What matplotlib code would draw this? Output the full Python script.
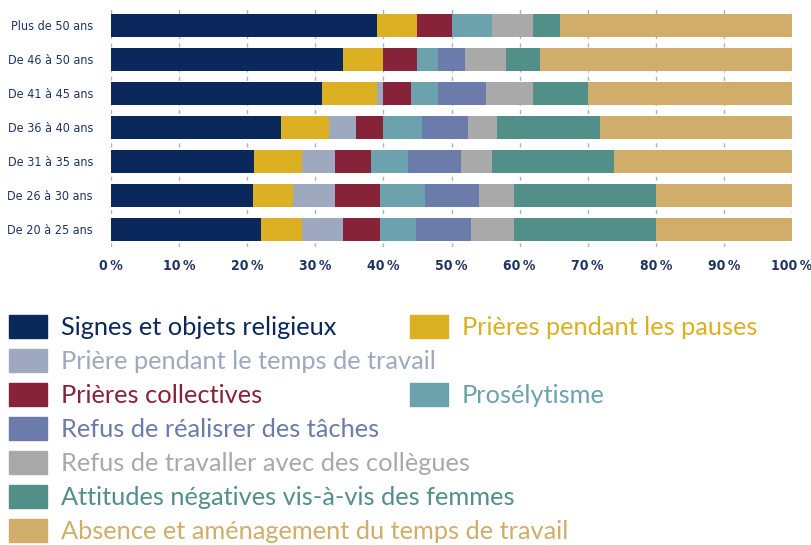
import matplotlib.pyplot as plt
from matplotlib.patches import Rectangle
import numpy as np

# age groups, top to bottom
ages = ["Plus de 50 ans", "De 46 à 50 ans", "De 41 à 45 ans", "De 36 à 40 ans",
        "De 31 à 35 ans", "De 26 à 30 ans", "De 20 à 25 ans"]

# shares in % per category (same order as ages)
signes = [39, 34, 31, 25, 21, 20.9, 22]
pauses = [6, 6, 8, 7, 7, 5.8, 6]
priere_travail = [0, 0, 1, 4, 4.9, 6.2, 6.1]
collectives = [5, 5, 4, 4, 5.3, 6.6, 5.4]
proselytisme = [6, 3, 4, 5.7, 5.4, 6.6, 5.3]
refus_taches = [0, 4, 7, 6.7, 7.8, 7.9, 8.1]
refus_collegues = [6, 6, 7, 4.3, 4.5, 5.2, 6.3]
attitudes = [4, 5, 8, 15.1, 18, 20.8, 20.8]
absence = [34, 37, 30, 28.2, 26.1, 20, 20]

labels = ["Signes et objets religieux", "Prières pendant les pauses",
          "Prière pendant le temps de travail", "Prières collectives",
          "Prosélytisme", "Refus de réalisrer des tâches",
          "Refus de travaller avec des collègues",
          "Attitudes négatives vis-à-vis des femmes",
          "Absence et aménagement du temps de travail"]
colors = ["#0B285C", "#DBB022", "#9EA9C0", "#862338", "#6BA2AE",
          "#6B7BAA", "#A9A9A9", "#518F88", "#D0AD6A"]
series = [signes, pauses, priere_travail, collectives, proselytisme,
          refus_taches, refus_collegues, attitudes, absence]

xticks = np.arange(0, 101, 10)

navy_txt = "#1E3461"
tick_kw = dict(family="DejaVu Sans", fontstretch="condensed", color=navy_txt)

fig = plt.figure(figsize=(8.11, 5.45), dpi=100)
ax = fig.add_axes([0.1369, 0.5468, 0.8397, 0.4404])

y = np.arange(len(ages))
left = np.zeros(len(ages))
for vals, col, lab in zip(series, colors, labels):
    vals = np.array(vals, dtype=float)
    ax.barh(y, vals, left=left, height=0.67, color=col, label=lab, zorder=2)
    left += vals

ax.set_ylim(len(ages) - 0.48, -0.54)
ax.set_xlim(0, 100)
ax.set_xticks(xticks)
ax.set_xticklabels([f"{t}\u2009%" for t in xticks], fontsize=10, fontweight="bold", **tick_kw)
ax.set_yticks(y)
ax.set_yticklabels(ages, fontsize=9, **tick_kw)
ax.tick_params(length=0)
ax.tick_params(axis="y", pad=13)
ax.tick_params(axis="x", pad=9)
for s in ax.spines.values():
    s.set_visible(False)
ax.grid(axis="x", linestyle=(0, (3, 3)), color="#A9B3C8", linewidth=1, zorder=0)
ax.set_axisbelow(True)

# legend, drawn by hand: left column 7 rows, right column rows 1 and 3
leg_font = ["Lato", "DejaVu Sans"]
left_items = [0, 2, 3, 5, 6, 7, 8]
right_items = {1: 0, 4: 2}
row_h = 34
for row, i in enumerate(left_items):
    ytop = 315 + row * row_h
    fig.patches.append(Rectangle((9 / 811, 1 - (ytop + 23) / 545), 38 / 811, 23 / 545,
                                 transform=fig.transFigure, color=colors[i]))
    fig.text(61 / 811, 1 - (ytop + 12.5) / 545, labels[i], color=colors[i],
             family=leg_font, fontsize=18.3, va="center", ha="left")
for i, row in right_items.items():
    ytop = 315 + row * row_h
    fig.patches.append(Rectangle((410 / 811, 1 - (ytop + 23) / 545), 38 / 811, 23 / 545,
                                 transform=fig.transFigure, color=colors[i]))
    fig.text(462 / 811, 1 - (ytop + 12.5) / 545, labels[i], color=colors[i],
             family=leg_font, fontsize=18.3, va="center", ha="left")

fig.savefig("out.png", dpi=100)
